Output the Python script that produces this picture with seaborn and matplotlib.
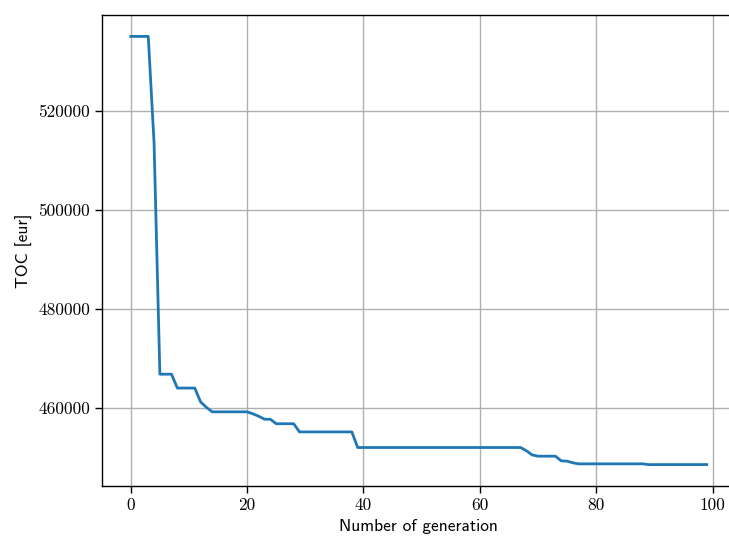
import numpy as np
import matplotlib
matplotlib.use("Agg")
import matplotlib.pyplot as plt
import pandas as pd
import seaborn as sns

# best TOC per generation
generation = list(range(100))
toc = [
    535000, 535000, 535000, 535000, 513500, 466800, 466800, 466800, 464000, 464000,
    464000, 464000, 461200, 460100, 459200, 459200, 459200, 459200, 459200, 459200,
    459200, 458800, 458300, 457700, 457700, 456800, 456800, 456800, 456800, 455150,
    455150, 455150, 455150, 455150, 455150, 455150, 455150, 455150, 455150, 452000,
    452000, 452000, 452000, 452000, 452000, 452000, 452000, 452000, 452000, 452000,
    452000, 452000, 452000, 452000, 452000, 452000, 452000, 452000, 452000, 452000,
    452000, 452000, 452000, 452000, 452000, 452000, 452000, 452000, 451350, 450500,
    450250, 450250, 450250, 450250, 449300, 449250, 448900, 448700, 448700, 448700,
    448700, 448700, 448700, 448700, 448700, 448700, 448700, 448700, 448700, 448550,
    448550, 448550, 448550, 448550, 448550, 448550, 448550, 448550, 448550, 448550,
]

df = pd.DataFrame({"generation": generation, "toc": toc})

plt.rcParams["axes.unicode_minus"] = False

fig = plt.figure(figsize=(7.29, 5.39), dpi=100)
# axes runs past the right edge, like the clipped original
ax = fig.add_axes([102 / 729, 53 / 539, 633.5 / 729, 471 / 539])

sns.lineplot(data=df, x="generation", y="toc", ax=ax, color="#1f77b4", linewidth=2)

ax.grid(True, color="#b0b0b0", linewidth=1.0)
ax.set_axisbelow(True)
ax.set_yticks([460000, 480000, 500000, 520000])
ax.set_xticks([0, 20, 40, 60, 80, 100])
ax.ticklabel_format(axis="y", style="plain", useOffset=False)

for lab in ax.get_xticklabels() + ax.get_yticklabels():
    lab.set_fontfamily("cmr10")
    lab.set_fontsize(12.5)

ax.set_xlabel("Number of generation", family="cmss10", fontsize=12.5)
ax.set_ylabel("TOC [eur]", family="cmss10", fontsize=12.5)
ax.tick_params(direction="out", length=5, width=1, color="black")
for s in ax.spines.values():
    s.set_color("black")
    s.set_linewidth(1.0)
ax.spines["right"].set_visible(False)  # clipped off in the reference

fig.savefig("out.png", dpi=100)
